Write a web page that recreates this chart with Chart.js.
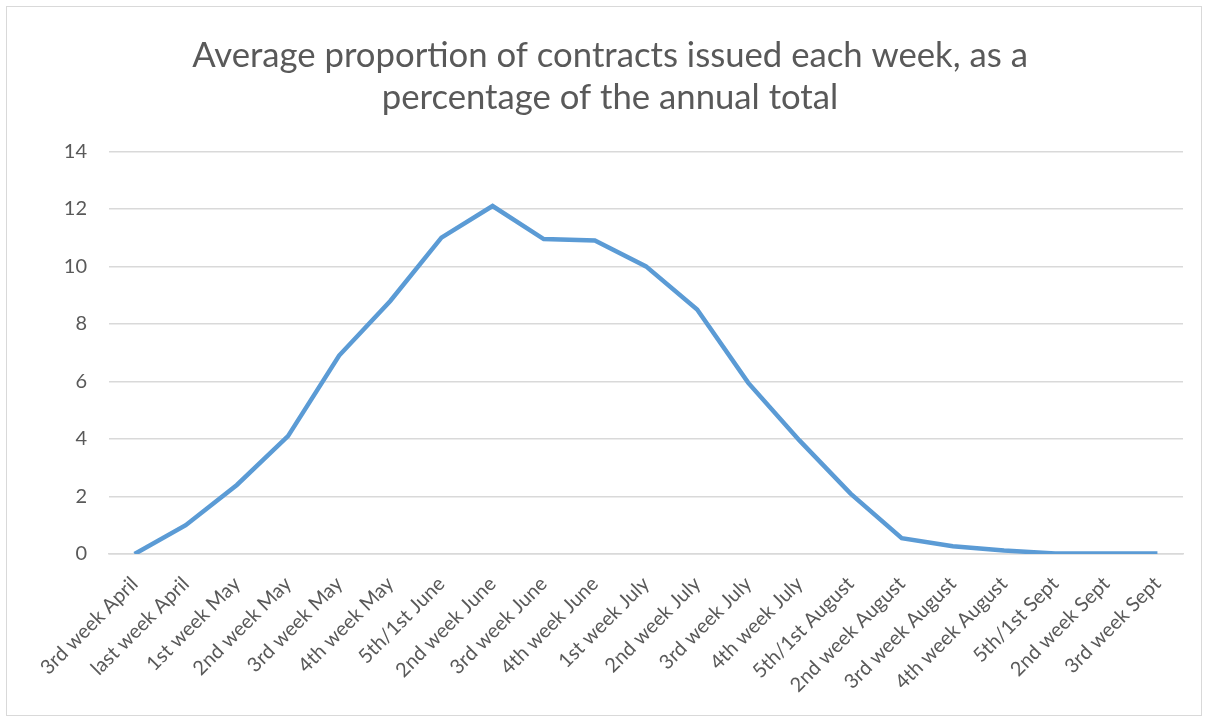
<!DOCTYPE html>
<html>
<head>
<meta charset="utf-8">
<script src="https://cdn.jsdelivr.net/npm/chart.js@4/dist/chart.umd.min.js"></script>
<style>
    html, body { margin: 0; padding: 0; background: #fff; }
    #wrap { position: relative; width: 1209px; height: 722px; }
    #frame { position: absolute; left: 6px; top: 6px; width: 1196px; height: 710px; border: 1px solid #d9d9d9; box-sizing: border-box; }
</style>
</head>
<body>
<div id="wrap">
    <div id="frame"></div>
    <canvas id="weekChart" width="1209" height="722"></canvas>
</div>
<script>
// Weekly contracts, share of annual total (%)
const weekLabels = [
    '3rd week April', 'last week April', '1st week May', '2nd week May', '3rd week May',
    '4th week May', '5th/1st June', '2nd week June', '3rd week June', '4th week June',
    '1st week July', '2nd week July', '3rd week July', '4th week July', '5th/1st August',
    '2nd week August', '3rd week August', '4th week August', '5th/1st Sept', '2nd week Sept',
    '3rd week Sept'
];
const weekShare = [0, 1.0, 2.4, 4.1, 6.9, 8.8, 11.0, 12.1, 10.95, 10.9, 10.0, 8.5, 5.95, 3.95, 2.1, 0.55, 0.27, 0.12, 0.02, 0.02, 0.02];
const yTicks = [0, 2, 4, 6, 8, 10, 12, 14];

const textColor = '#595959';
const gridColor = '#d9d9d9';
const fontFamily = 'Lato, "Open Sans", sans-serif';

const ctx = document.getElementById('weekChart').getContext('2d');
const weekChart = new Chart(ctx, {
    type: 'line',
    data: {
        labels: weekLabels,
        datasets: [{
            label: 'Share',
            data: weekShare,
            borderColor: '#5b9bd5',
            borderWidth: 4.5,
            pointRadius: 0,
            tension: 0,
            fill: false
        }]
    },
    options: {
        responsive: false,
        animation: false,
        layout: { padding: { left: 11, right: 0, top: 0, bottom: 0 } },
        plugins: {
            legend: { display: false },
            tooltip: { enabled: false },
            title: {
                display: true,
                text: ['Average proportion of contracts issued each week, as a', 'percentage of the annual total'],
                color: textColor,
                font: { family: fontFamily, size: 34.7, weight: 'normal', lineHeight: 1.23 },
                padding: { top: 34, bottom: 32 }
            }
        },
        scales: {
            x: {
                offset: true,
                grid: { display: false, drawTicks: false },
                border: { display: true, color: gridColor, width: 1.5 },
                ticks: {
                    color: textColor,
                    font: { family: fontFamily, size: 20 },
                    minRotation: 45,
                    maxRotation: 45,
                    autoSkip: false,
                    padding: 18
                },
                afterFit: function(scale) { scale.height = 168; }
            },
            y: {
                min: 0,
                max: 14,
                afterBuildTicks: function(scale) { scale.ticks = yTicks.map(v => ({ value: v })); },
                grid: { color: gridColor, lineWidth: 1.5, drawTicks: false },
                border: { display: false },
                ticks: {
                    color: textColor,
                    font: { family: fontFamily, size: 20 },
                    padding: 22
                },
                afterFit: function(scale) { scale.width = 98; }
            },
            // empty right margin so the title centres on the whole frame
            yRight: {
                position: 'right',
                min: 0,
                max: 14,
                grid: { display: false, drawTicks: false },
                border: { display: false },
                ticks: { display: false },
                afterFit: function(scale) { scale.width = 26; }
            }
        }
    }
});
</script>
</body>
</html>
